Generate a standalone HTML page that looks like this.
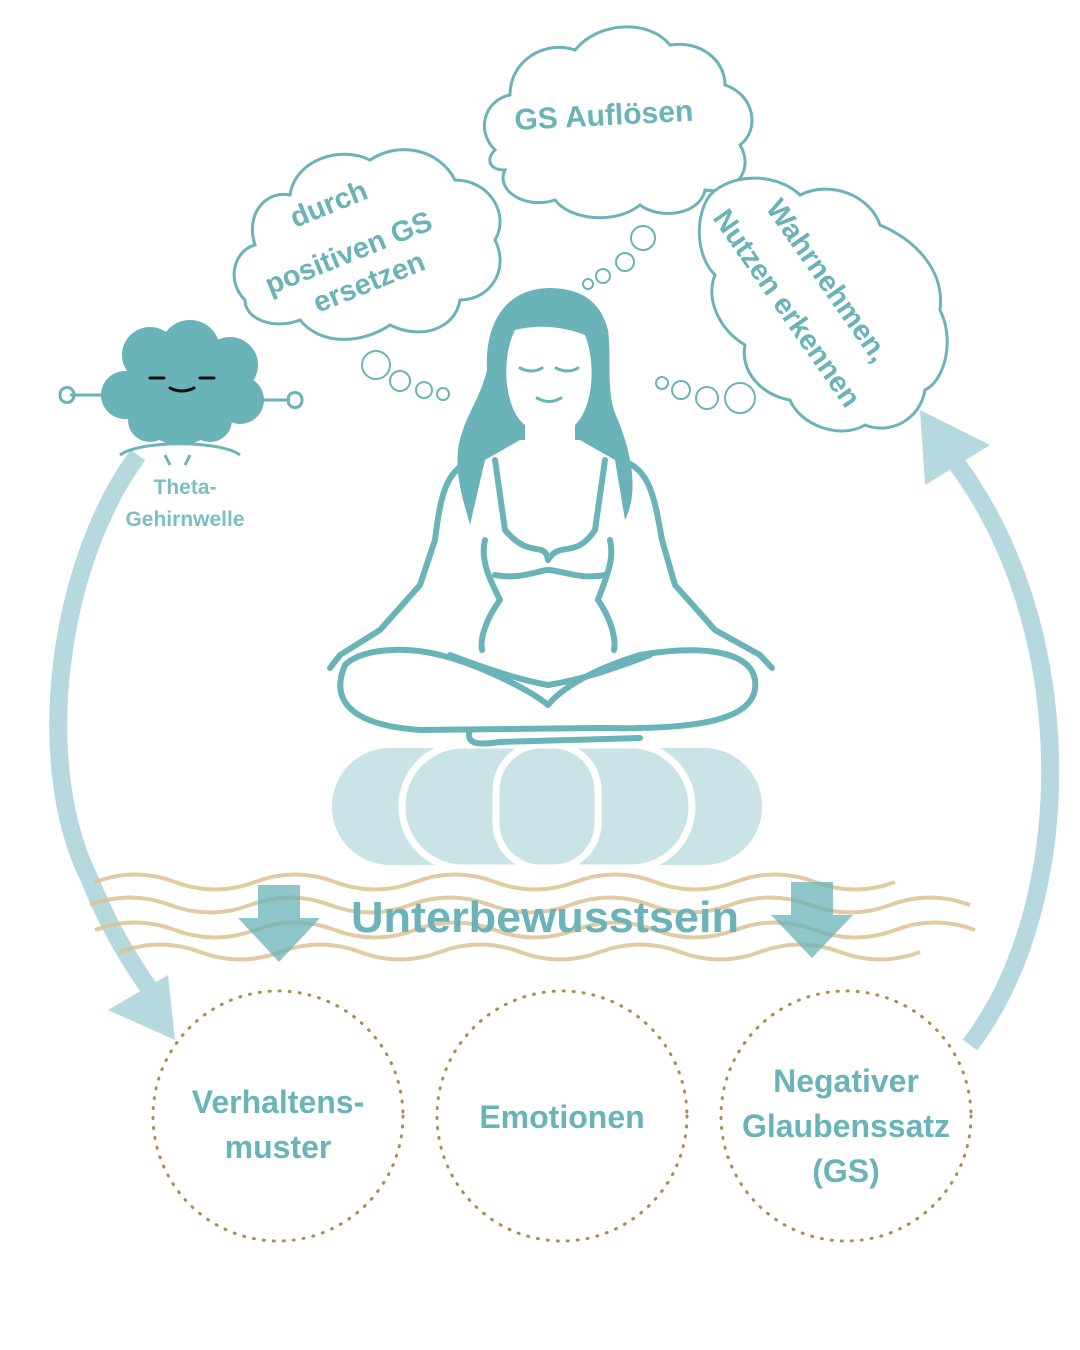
<!DOCTYPE html>
<html><head><meta charset="utf-8"><style>
html,body{margin:0;padding:0;background:#fff;}
svg{display:block;}
text{font-family:"Liberation Sans",sans-serif;font-weight:bold;}
</style></head><body>
<svg width="1080" height="1350" viewBox="0 0 1080 1350" xmlns="http://www.w3.org/2000/svg">
<!-- arcs -->
<path d="M138 455 C 60 560, 30 760, 90 880 C 110 930, 130 960, 150 990" fill="none" stroke="#b5d9de" stroke-width="18"/>
<polygon points="108,1010 168,975 175,1040" fill="#b5d9de"/>
<path d="M970 1045 C 1080 900, 1080 620, 950 455" fill="none" stroke="#b5d9de" stroke-width="18"/>
<polygon points="925,485 920,410 990,445" fill="#b5d9de"/>

<!-- clouds -->
<g fill="#fff" stroke="#6ab3b8" stroke-width="3">
<path d="M245 300 C 225 280,235 250,255 245 C 245 215,265 190,290 195 C 295 160,340 145,370 160 C 400 140,440 150,455 180 C 490 180,510 215,495 240 C 510 270,490 300,460 300 C 455 330,420 340,390 325 C 360 345,320 345,300 320 C 275 330,245 320,245 300 Z"/>
<path d="M495 150 C 475 130,485 100,510 95 C 510 60,545 40,575 50 C 600 20,650 20,670 45 C 700 40,725 60,725 85 C 755 95,760 130,740 145 C 755 170,735 195,705 190 C 700 215,660 220,640 205 C 615 225,570 220,555 200 C 525 210,495 190,505 170 C 490 170,485 160,495 150 Z"/>
<path d="M710 195 C 735 170,780 175,800 195 C 830 180,870 195,880 225 C 915 240,945 270,940 310 C 955 340,945 380,925 390 C 920 420,890 435,865 425 C 840 440,800 425,790 400 C 760 395,740 370,745 345 C 720 330,705 300,715 275 C 695 255,695 215,710 195 Z"/>
</g>
<g fill="none" stroke="#6ab3b8" stroke-width="2">
<circle cx="376" cy="365" r="14"/><circle cx="400" cy="381" r="10"/><circle cx="424" cy="390" r="8"/><circle cx="443" cy="394" r="6"/>
<circle cx="643" cy="238" r="12"/><circle cx="625" cy="262" r="9"/><circle cx="603" cy="276" r="7"/><circle cx="588" cy="284" r="5"/>
<circle cx="740" cy="398" r="15"/><circle cx="707" cy="398" r="11"/><circle cx="681" cy="390" r="9"/><circle cx="662" cy="383" r="6"/>
</g>
<g fill="#6ab3b8" font-size="29">
<text transform="translate(295,228) rotate(-22)">durch</text>
<text transform="translate(270,295) rotate(-22)">positiven GS</text>
<text transform="translate(318,313) rotate(-22)">ersetzen</text>
<text x="515" y="130" font-size="30" transform="rotate(-3 515 130)">GS Auflösen</text>
<text transform="translate(765,208) rotate(55)">Wahrnehmen,</text>
<text transform="translate(712,218) rotate(55)">Nutzen erkennen</text>
</g>

<!-- small cloud character -->
<g fill="#6ab3b8">
<circle cx="150" cy="355" r="28"/><circle cx="190" cy="350" r="30"/><circle cx="230" cy="365" r="28"/>
<circle cx="125" cy="395" r="24"/><circle cx="240" cy="400" r="24"/><circle cx="180" cy="400" r="45"/>
<circle cx="150" cy="420" r="22"/><circle cx="210" cy="420" r="22"/>
</g>
<g fill="none" stroke="#6ab3b8" stroke-width="3">
<path d="M105 395 L70 395 M60 395 c0 -10 14 -10 14 0 c0 10 -14 10 -14 0"/>
<path d="M255 400 L290 400 M288 400 c0 -10 14 -10 14 0 c0 10 -14 10 -14 0"/>
<path d="M120 455 C 140 440,220 440,240 455 M165 455 l5 10 M190 455 l-5 10"/>
</g>
<g stroke="#111" stroke-width="3" fill="none" stroke-linecap="round">
<path d="M150 378 l14 0"/><path d="M200 378 l14 0"/><path d="M170 388 q12 6 24 0"/>
</g>
<text x="185" y="494" font-size="21" fill="#7cbfc3" text-anchor="middle">Theta-</text>
<text x="185" y="526" font-size="21" fill="#7cbfc3" text-anchor="middle">Gehirnwelle</text>

<!-- cushion -->
<rect x="332" y="748" width="430" height="117" rx="58" fill="#c9e3e6"/>
<rect x="402" y="745" width="290" height="123" rx="61" fill="none" stroke="#fff" stroke-width="7"/>
<rect x="496" y="745" width="102" height="123" rx="45" fill="none" stroke="#fff" stroke-width="7"/>

<!-- woman -->
<path d="M548 288 C 500 290,485 330,487 370 C 480 400,462 420,458 450 C 455 480,465 505,470 525 L 485 460 L 520 440 L 580 440 L 615 460 L 625 520 C 640 490,630 450,618 420 C 605 395,612 360,608 330 C 600 300,580 288,548 288 Z" fill="#6ab3b8"/>
<path d="M515 330 C 500 360,505 410,525 425 C 545 438,560 438,575 425 C 595 405,595 360,585 335 C 560 325,535 325,515 330 Z" fill="#fff"/>
<path d="M525 425 L 525 445 C 535 455,565 455,575 445 L 575 425" fill="#fff"/>
<g fill="none" stroke="#6ab3b8" stroke-width="3" stroke-linecap="round">
<path d="M520 368 q12 6 22 0"/><path d="M556 368 q12 6 22 0"/><path d="M537 398 q12 7 24 0"/>
</g>
<g fill="none" stroke="#6ab3b8" stroke-width="6" stroke-linecap="round" stroke-linejoin="round">
<path d="M470 462 C 445 470,440 500,435 540 L 420 585 L 380 630 L 340 655 L 330 668"/>
<path d="M625 462 C 650 470,655 500,662 540 L 675 585 L 715 630 L 760 655 L 772 668"/>
<path d="M495 460 L 505 530 C 530 560,545 540,548 560 C 560 540,575 560,595 530 L 605 460"/>
<path d="M485 540 C 480 560,490 580,500 600 C 485 620,480 640,482 650"/>
<path d="M610 540 C 615 560,605 580,598 600 C 612 620,616 640,614 650"/>
<path d="M495 575 C 520 580,540 570,548 570 C 560 570,580 580,605 575"/>
<path d="M345 665 C 330 700,350 725,420 730 L 600 728 C 700 730,760 720,755 680 C 750 650,700 645,640 655 C 590 670,560 690,548 705 C 530 690,480 665,440 655 C 400 645,360 650,345 665 Z"/>
<path d="M450 655 C 490 670,520 680,548 685 C 580 680,610 670,650 655"/>
<path d="M470 730 C 465 745,480 745,500 742 L 640 738"/>
</g>

<!-- waves -->
<g fill="none" stroke="#dcc392" stroke-width="4" opacity="0.85">
<path d="M95 882 q40 -15 80 0 t80 0 t80 0 t80 0 t80 0 t80 0 t80 0 t80 0 t80 0 t80 0"/>
<path d="M90 905 q40 -15 80 0 t80 0 t80 0 t80 0 t80 0 t80 0 t80 0 t80 0 t80 0 t80 0 t80 0"/>
<path d="M95 930 q40 -15 80 0 t80 0 t80 0 t80 0 t80 0 t80 0 t80 0 t80 0 t80 0 t80 0 t80 0"/>
<path d="M120 952 q40 -15 80 0 t80 0 t80 0 t80 0 t80 0 t80 0 t80 0 t80 0 t80 0 t80 0"/>
</g>
<g fill="#6ab3b8" opacity="0.75">
<polygon points="258,885 300,885 300,918 320,918 279,962 238,918 258,918"/>
<polygon points="791,882 833,882 833,915 853,915 812,958 771,915 791,915"/>
</g>
<text x="545" y="932" font-size="44" fill="#6ab3b8" text-anchor="middle" textLength="388" lengthAdjust="spacingAndGlyphs">Unterbewusstsein</text>

<!-- circles -->
<g fill="none" stroke="#b08a4a" stroke-width="3" stroke-dasharray="1 9" stroke-linecap="round">
<circle cx="278" cy="1116" r="125"/><circle cx="562" cy="1116" r="125"/><circle cx="846" cy="1116" r="125"/>
</g>
<g fill="#6ab3b8" font-size="32" text-anchor="middle">
<text x="278" y="1113">Verhaltens-</text><text x="278" y="1158">muster</text>
<text x="562" y="1128">Emotionen</text>
<text x="846" y="1092">Negativer</text><text x="846" y="1137">Glaubenssatz</text><text x="846" y="1182">(GS)</text>
</g>
</svg>
</body></html>
